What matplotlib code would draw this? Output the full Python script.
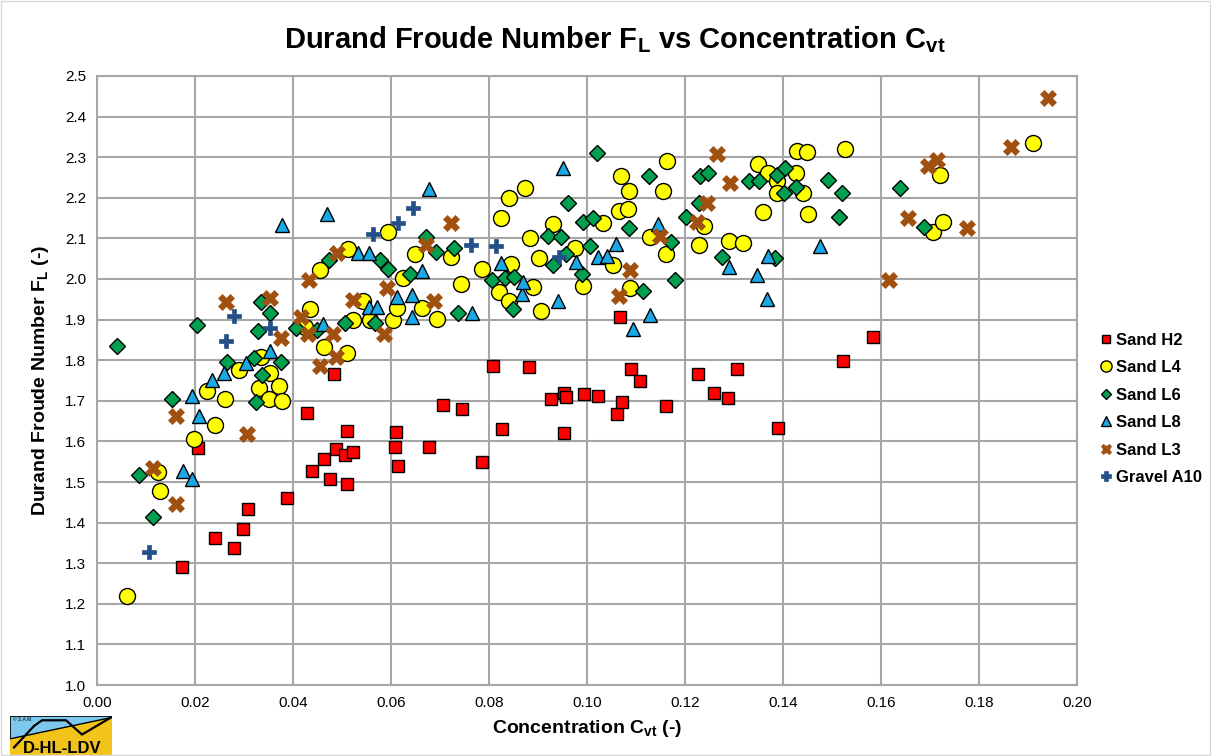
import matplotlib.pyplot as plt
from matplotlib.patches import Rectangle, Polygon

plt.rcParams['font.family'] = ['Liberation Sans', 'DejaVu Sans']
plt.rcParams['mathtext.fontset'] = 'custom'
plt.rcParams['mathtext.bf'] = 'Liberation Sans:bold'
plt.rcParams['mathtext.rm'] = 'Liberation Sans:bold'
plt.rcParams['mathtext.default'] = 'bf'

# Sand H2
h2_x = [0.0174, 0.0206, 0.0241, 0.0280, 0.0298, 0.0308, 0.0388, 0.0428, 0.0439, 0.0463,
        0.0476, 0.0484, 0.0488, 0.0506, 0.0510, 0.0510, 0.0522, 0.0608, 0.0610, 0.0614,
        0.0678, 0.0706, 0.0745, 0.0786, 0.0808, 0.0827, 0.0882, 0.0927, 0.0953, 0.0953,
        0.0957, 0.0994, 0.1023, 0.1061, 0.1067, 0.1071, 0.1090, 0.1108, 0.1161, 0.1227,
        0.1259, 0.1288, 0.1306, 0.1390, 0.1522, 0.1584]
h2_y = [1.291, 1.584, 1.362, 1.338, 1.384, 1.434, 1.461, 1.669, 1.527, 1.557,
        1.507, 1.766, 1.581, 1.567, 1.626, 1.495, 1.574, 1.586, 1.623, 1.539,
        1.586, 1.690, 1.680, 1.549, 1.786, 1.630, 1.783, 1.704, 1.621, 1.719,
        1.709, 1.717, 1.712, 1.667, 1.906, 1.697, 1.778, 1.749, 1.687, 1.766,
        1.719, 1.707, 1.778, 1.633, 1.798, 1.857]

# Sand L4
l4_x = [0.0061, 0.0125, 0.0129, 0.0198, 0.0224, 0.0241, 0.0261, 0.0290, 0.0330, 0.0335,
        0.0351, 0.0353, 0.0371, 0.0377, 0.0424, 0.0435, 0.0455, 0.0463, 0.0510, 0.0512,
        0.0522, 0.0543, 0.0557, 0.0594, 0.0604, 0.0612, 0.0624, 0.0649, 0.0663, 0.0694,
        0.0722, 0.0743, 0.0786, 0.0820, 0.0824, 0.0841, 0.0841, 0.0845, 0.0873, 0.0884,
        0.0890, 0.0902, 0.0906, 0.0931, 0.0976, 0.0992, 0.1033, 0.1053, 0.1065, 0.1069,
        0.1084, 0.1086, 0.1088, 0.1129, 0.1155, 0.1161, 0.1163, 0.1229, 0.1239, 0.1290,
        0.1318, 0.1349, 0.1360, 0.1370, 0.1388, 0.1388, 0.1427, 0.1429, 0.1441, 0.1449,
        0.1451, 0.1527, 0.1706, 0.1720, 0.1727, 0.1910]
l4_y = [1.219, 1.525, 1.478, 1.606, 1.724, 1.640, 1.704, 1.776, 1.732, 1.808,
        1.704, 1.768, 1.736, 1.700, 1.882, 1.926, 2.022, 1.832, 1.818, 2.074,
        1.899, 1.946, 1.899, 2.116, 1.899, 1.928, 2.002, 2.062, 1.928, 1.902,
        2.054, 1.988, 2.025, 1.968, 2.150, 2.200, 1.946, 2.037, 2.224, 2.101,
        1.980, 2.052, 1.921, 2.135, 2.076, 1.982, 2.138, 2.035, 2.167, 2.254,
        2.172, 2.217, 1.977, 2.104, 2.217, 2.061, 2.291, 2.084, 2.131, 2.094,
        2.089, 2.283, 2.165, 2.261, 2.241, 2.211, 2.261, 2.315, 2.212, 2.312,
        2.160, 2.320, 2.116, 2.256, 2.141, 2.335]

# Sand L6
l6_x = [0.0041, 0.0086, 0.0114, 0.0153, 0.0204, 0.0265, 0.0320, 0.0324, 0.0329, 0.0335,
        0.0337, 0.0353, 0.0376, 0.0406, 0.0449, 0.0473, 0.0506, 0.0567, 0.0578, 0.0594,
        0.0639, 0.0671, 0.0692, 0.0729, 0.0737, 0.0806, 0.0833, 0.0849, 0.0851, 0.0920,
        0.0931, 0.0947, 0.0957, 0.0961, 0.0990, 0.0992, 0.1006, 0.1012, 0.1020, 0.1086,
        0.1114, 0.1127, 0.1171, 0.1180, 0.1202, 0.1229, 0.1231, 0.1247, 0.1276, 0.1331,
        0.1351, 0.1384, 0.1388, 0.1402, 0.1404, 0.1427, 0.1492, 0.1514, 0.1521, 0.1639,
        0.1688]
l6_y = [1.835, 1.517, 1.414, 1.705, 1.887, 1.795, 1.806, 1.697, 1.872, 1.943,
        1.764, 1.916, 1.796, 1.879, 1.874, 2.047, 1.892, 1.892, 2.047, 2.025,
        2.012, 2.103, 2.067, 2.077, 1.916, 1.998, 2.003, 1.926, 2.005, 2.105,
        2.034, 2.103, 2.061, 2.187, 2.012, 2.140, 2.081, 2.150, 2.310, 2.126,
        1.970, 2.253, 2.091, 1.997, 2.153, 2.187, 2.253, 2.261, 2.054, 2.241,
        2.241, 2.052, 2.256, 2.211, 2.273, 2.227, 2.244, 2.153, 2.212, 2.224,
        2.128]

# Sand L8
l8_x = [0.0176, 0.0194, 0.0194, 0.0208, 0.0235, 0.0259, 0.0304, 0.0353, 0.0378, 0.0461,
        0.0469, 0.0533, 0.0556, 0.0556, 0.0571, 0.0612, 0.0643, 0.0643, 0.0663, 0.0678,
        0.0765, 0.0824, 0.0867, 0.0869, 0.0941, 0.0951, 0.0978, 0.1022, 0.1040, 0.1059,
        0.1094, 0.1129, 0.1145, 0.1290, 0.1347, 0.1367, 0.1370, 0.1476]
l8_y = [1.528, 1.507, 1.712, 1.663, 1.751, 1.768, 1.793, 1.823, 2.133, 1.889,
        2.160, 2.064, 2.064, 1.931, 1.931, 1.956, 1.961, 1.906, 2.020, 2.222,
        1.916, 2.039, 1.963, 1.993, 1.946, 2.273, 2.042, 2.054, 2.057, 2.086,
        1.877, 1.911, 2.135, 2.030, 2.010, 1.951, 2.057, 2.081]

# Sand L3
l3_x = [0.0114, 0.0161, 0.0161, 0.0263, 0.0306, 0.0353, 0.0375, 0.0416, 0.0431, 0.0433,
        0.0455, 0.0482, 0.0488, 0.0490, 0.0522, 0.0586, 0.0592, 0.0671, 0.0688, 0.0722,
        0.1065, 0.1088, 0.1149, 0.1224, 0.1245, 0.1265, 0.1292, 0.1616, 0.1655, 0.1696,
        0.1714, 0.1776, 0.1865, 0.1941]
l3_y = [1.534, 1.663, 1.446, 1.943, 1.618, 1.953, 1.855, 1.906, 1.865, 1.997,
        1.785, 1.865, 1.808, 2.064, 1.948, 1.865, 1.978, 2.083, 1.946, 2.137,
        1.958, 2.022, 2.106, 2.141, 2.187, 2.307, 2.236, 1.998, 2.150, 2.279,
        2.293, 2.126, 2.326, 2.446]

# Gravel A10
a10_x = [0.0106, 0.0263, 0.0280, 0.0353, 0.0563, 0.0614, 0.0645, 0.0763, 0.0814, 0.0943]
a10_y = [1.328, 1.848, 1.909, 1.879, 2.111, 2.138, 2.175, 2.084, 2.081, 2.054]

fig = plt.figure(figsize=(12.11, 7.56), dpi=100)
ax = fig.add_axes([0.0801, 0.0939, 0.8092, 0.8056])

grid_col = '#A6A6A6'
ax.plot(h2_x, h2_y, 's', ms=9, mfc='#FF0000', mec='black', mew=1.0, label='Sand H2')
ax.plot(l4_x, l4_y, 'o', ms=11.5, mfc='#FFFF00', mec='black', mew=1.0, label='Sand L4')
ax.plot(l6_x, l6_y, 'D', ms=8, mfc='#00A050', mec='black', mew=1.0, label='Sand L6')
ax.plot(l8_x, l8_y, '^', ms=10, mfc='#1AA8E6', mec='black', mew=1.0, label='Sand L8')
ax.plot(l3_x, l3_y, 'X', ms=11, mfc='#A0500F', mec='#A0500F', mew=0.5, label='Sand L3')
ax.plot(a10_x, a10_y, 'P', ms=10, mfc='#24508A', mec='#24508A', mew=0.5, label='Gravel A10')

ax.set_xlim(0, 0.20)
ax.set_ylim(1.0, 2.5)
ax.set_xticks([i * 0.02 for i in range(11)])
ax.set_yticks([1.0 + i * 0.1 for i in range(16)])
ax.xaxis.set_major_formatter(plt.FormatStrFormatter('%.2f'))
ax.yaxis.set_major_formatter(plt.FormatStrFormatter('%.1f'))
ax.tick_params(labelsize=11, length=0, pad=8, colors='black')
ax.grid(True, color=grid_col, lw=1.5)
ax.set_axisbelow(True)
for s in ax.spines.values():
    s.set_color(grid_col)
    s.set_linewidth(1.5)

fig.text(0.508, 0.947, r'Durand Froude Number F$_{L}$ vs Concentration C$_{vt}$',
         fontsize=21, fontweight='bold', ha='center', va='center')
ax.set_xlabel(r'Concentration C$_{vt}$ (-)', fontsize=14, fontweight='bold', labelpad=6)
ax.set_ylabel(r'Durand Froude Number F$_{L}$ (-)', fontsize=14, fontweight='bold', labelpad=10)

leg = fig.legend(loc='center left', bbox_to_anchor=(0.897, 0.459), frameon=False,
                 prop={'weight': 'bold', 'size': 12}, markerscale=0.7,
                 handlelength=0.6, handletextpad=0.3, labelspacing=0.75)

# outer border
fig.patches.append(Rectangle((0.001, 0.001), 0.998, 0.998, transform=fig.transFigure,
                             fill=False, ec='#D9D9D9', lw=1.0))

# small logo bottom left
lax = fig.add_axes([10 / 1211, 0, 102 / 1211, 40 / 756])
lax.set_xlim(0, 102)
lax.set_ylim(-16, 40)
lax.axis('off')
lax.add_patch(Rectangle((0, -16), 102, 56, fc='#7DC8EE', ec='black', lw=1.2))
lax.add_patch(Polygon([(0, -16), (0, 8), (102, 38), (102, -16)], closed=True,
                      fc='#F2C318', ec='none'))
lax.plot([0, 102], [8, 38], color='black', lw=1.0)
lax.plot([4, 24, 32, 56, 72, 101], [-4, 26, 34, 34, 14, 38], color='black', lw=1.6)
lax.text(3, 35, '© S.A.M.', fontsize=3.5, va='center', color='black')
lax.text(52, -6, 'D-HL-LDV', fontsize=12, fontweight='bold', ha='center', va='center')

fig.savefig('out.png', dpi=100)
